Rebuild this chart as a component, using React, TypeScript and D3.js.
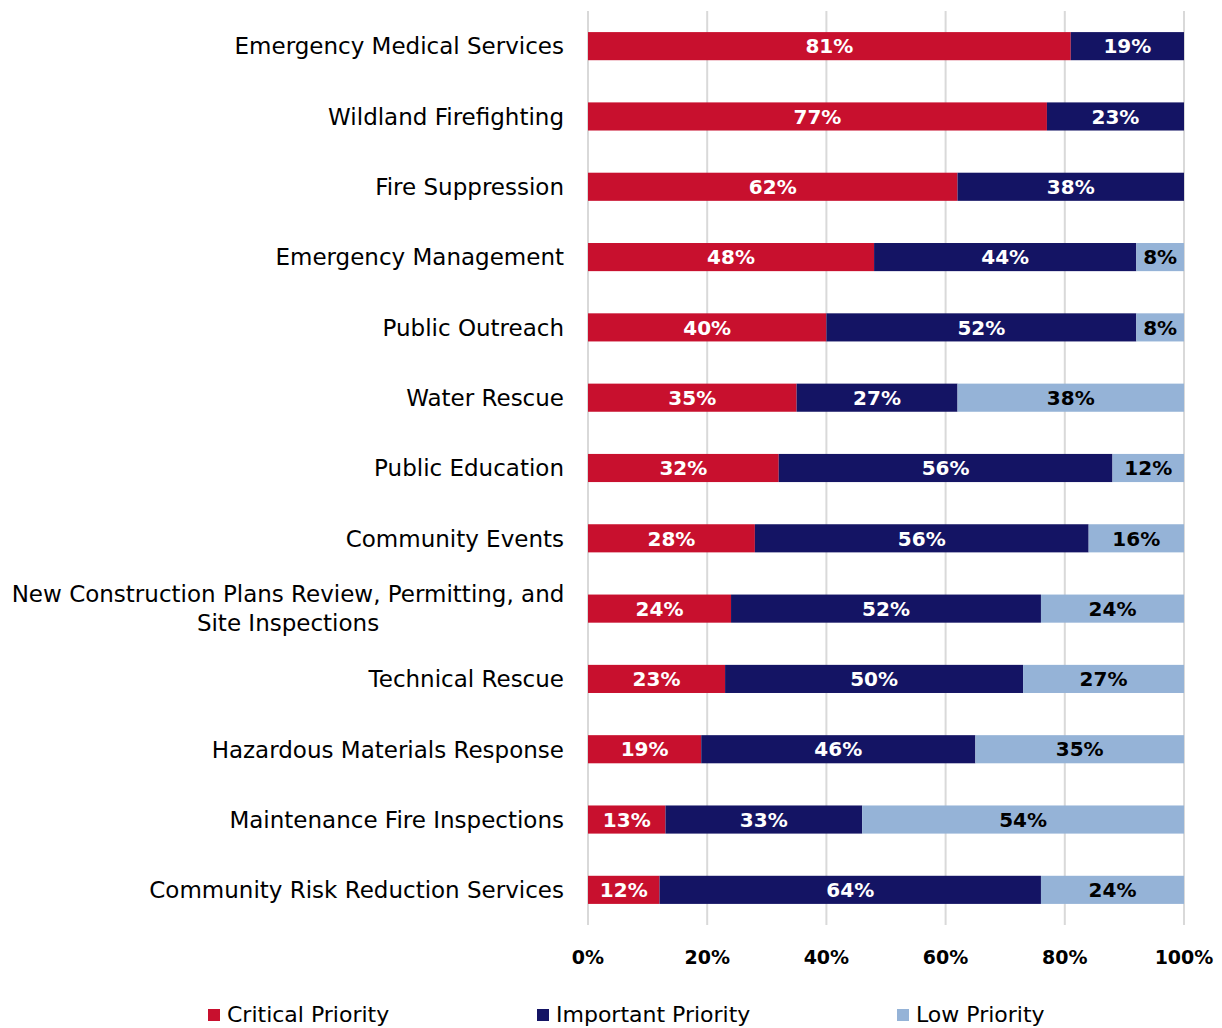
import React from "react";
import * as d3 from "d3";

const categories = [
  "Emergency Medical Services",
  "Wildland Firefighting",
  "Fire Suppression",
  "Emergency Management",
  "Public Outreach",
  "Water Rescue",
  "Public Education",
  "Community Events",
  "New Construction Plans Review, Permitting, and|Site Inspections",
  "Technical Rescue",
  "Hazardous Materials Response",
  "Maintenance Fire Inspections",
  "Community Risk Reduction Services",
];
const critical = [81, 77, 62, 48, 40, 35, 32, 28, 24, 23, 19, 13, 12];
const important = [19, 23, 38, 44, 52, 27, 56, 56, 52, 50, 46, 33, 64];
const low = [0, 0, 0, 8, 8, 38, 12, 16, 24, 27, 35, 54, 24];
const seriesNames = ["Critical Priority", "Important Priority", "Low Priority"];
const seriesColors = ["#C8102E", "#141464", "#95B3D7"];
const labelColors = ["#ffffff", "#ffffff", "#000000"];
const ticks = [0, 20, 40, 60, 80, 100];

const W = 1222;
const H = 1028;
const left = 588;
const right = 1184;
const top = 11;
const bottom = 925;

const labelFont = "'Century Gothic', 'URW Gothic', 'DejaVu Sans', sans-serif";
const numFont = "'Futura', 'DejaVu Sans', sans-serif";

export default function App() {
  const x = d3.scaleLinear().domain([0, 100]).range([left, right]);
  const y = d3.scaleBand().domain(categories).range([top, bottom]).paddingInner(0.6).paddingOuter(0.3);
  const data = categories.map((c, i) => ({ cat: c, v: [critical[i], important[i], low[i]] }));
  const legendX = [208, 537, 897];

  return (
    <svg width={W} height={H} style={{ position: "absolute", left: 0, top: 0, background: "#fff" }}>
      {ticks.map((t) => (
        <line key={t} x1={x(t)} x2={x(t)} y1={top} y2={bottom} stroke="#d9d9d9" strokeWidth={2} />
      ))}
      {data.map((d) => {
        let acc = 0;
        const yy = y(d.cat)!;
        const bh = y.bandwidth();
        return (
          <g key={d.cat}>
            {d.v.map((v, k) => {
              const x0 = acc;
              acc += v;
              if (v <= 0) return null;
              return (
                <g key={k}>
                  <rect x={x(x0)} y={yy} width={x(x0 + v) - x(x0)} height={bh} fill={seriesColors[k]} />
                  <text
                    x={(x(x0) + x(x0 + v)) / 2}
                    y={yy + bh / 2}
                    dy="0.36em"
                    textAnchor="middle"
                    fontFamily={numFont}
                    fontWeight="bold"
                    fontSize={20}
                    fill={labelColors[k]}
                  >
                    {v}%
                  </text>
                </g>
              );
            })}
            {d.cat.includes("|") ? (
              (() => {
                const lines = d.cat.split("|");
                return (
                  <text fontFamily={labelFont} fontSize={23} fill="#000" textAnchor="middle">
                    {lines.map((l, li) => (
                      <tspan key={li} x={288} y={yy + bh / 2 - 14.5 + li * 29} dy="0.36em">
                        {l}
                      </tspan>
                    ))}
                  </text>
                );
              })()
            ) : (
              <text x={564} y={yy + bh / 2} dy="0.36em" textAnchor="end" fontFamily={labelFont} fontSize={23} fill="#000">
                {d.cat}
              </text>
            )}
          </g>
        );
      })}
      {ticks.map((t) => (
        <text key={t} x={x(t)} y={957} dy="0.36em" textAnchor="middle" fontFamily={numFont} fontWeight="bold" fontSize={19} fill="#000">
          {t}%
        </text>
      ))}
      {seriesNames.map((s, k) => (
        <g key={s}>
          <rect x={legendX[k]} y={1009} width={12} height={12} fill={seriesColors[k]} />
          <text x={legendX[k] + 19} y={1014} dy="0.36em" fontFamily={labelFont} fontSize={22} fill="#000">
            {s}
          </text>
        </g>
      ))}
    </svg>
  );
}
